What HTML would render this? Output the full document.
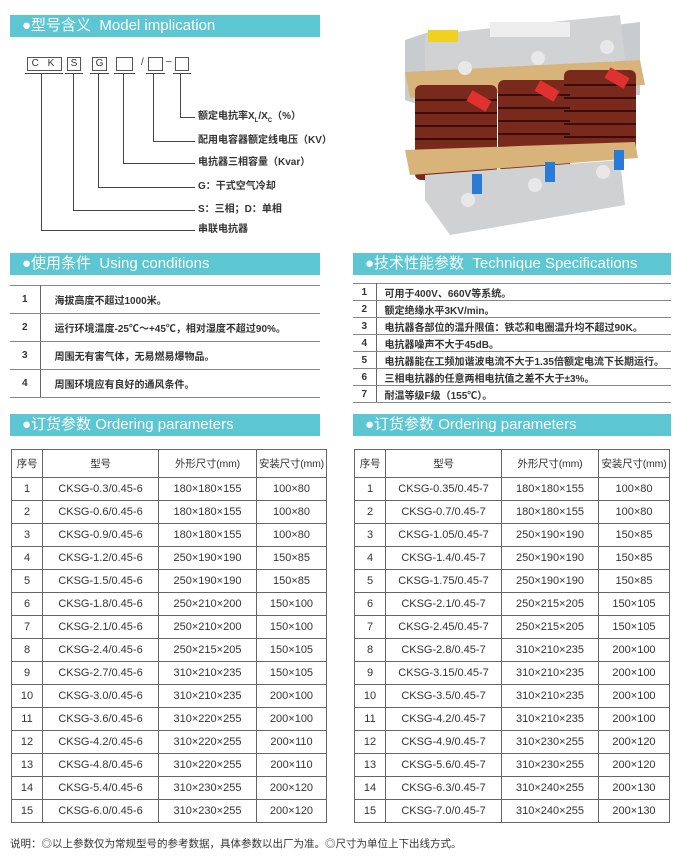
<!DOCTYPE html>
<html><head><meta charset="utf-8"><style>
*{margin:0;padding:0;box-sizing:border-box}
body{width:677px;height:863px;background:#fff;position:relative;overflow:hidden;font-family:"Liberation Sans","Noto Sans CJK SC",sans-serif;color:#222}
.bar{position:absolute;height:22px;background:#5cc7d2;color:#fff;font-size:15px;line-height:22px;padding-left:12px;white-space:nowrap}
.a{position:absolute}
.mb{position:absolute;top:57px;height:14px;border:1px solid #555;font-size:10px;line-height:12px;text-align:center;color:#333}
.lbl{position:absolute;left:198px;font-size:10px;font-weight:bold;color:#333;line-height:12px}
table{position:absolute;border-collapse:collapse;font-size:11px;color:#333;table-layout:fixed}
table.o td{border:1px solid #666;text-align:center;height:23px;padding:0;white-space:nowrap}
table.o tr:first-child td{height:28px;font-size:10.5px;letter-spacing:-0.2px}
table.c td,table.s td{border-top:1px solid #888;border-bottom:1px solid #888;font-size:10px;font-weight:bold;color:#333;padding:0}
</style></head><body>

<div class="bar" style="left:10px;top:15px;width:310px">●型号含义&nbsp; Model implication</div>
<div class="mb" style="left:27px;width:35px;letter-spacing:3px">C K</div>
<div class="mb" style="left:67px;width:14px">S</div>
<div class="mb" style="left:92px;width:15px">G</div>
<div class="mb" style="left:116px;width:17px"></div>
<div class="a" style="left:141px;top:57px;font-size:10px;color:#333">/</div>
<div class="mb" style="left:148px;width:15px"></div>
<div class="a" style="left:166px;top:56px;font-size:10px;color:#333">–</div>
<div class="mb" style="left:175px;width:14px"></div>
<svg class="a" style="left:0;top:0" width="200" height="240">
<g stroke="#444" stroke-width="1" fill="none">
<line x1="25" y1="73.5" x2="63" y2="73.5"/><line x1="65" y1="73.5" x2="83" y2="73.5"/><line x1="90" y1="73.5" x2="109" y2="73.5"/><line x1="114" y1="73.5" x2="135" y2="73.5"/><line x1="146" y1="73.5" x2="165" y2="73.5"/><line x1="173" y1="73.5" x2="191" y2="73.5"/>
<polyline points="41.5,74 41.5,230.5 195,230.5"/>
<polyline points="73.5,74 73.5,210.5 195,210.5"/>
<polyline points="98.5,74 98.5,187.5 195,187.5"/>
<polyline points="123.5,74 123.5,163.5 195,163.5"/>
<polyline points="153.5,74 153.5,141.5 195,141.5"/>
<polyline points="180.5,74 180.5,117.5 195,117.5"/>
</g></svg>
<div class="lbl" style="top:111px">额定电抗率X<sub style="font-size:6px">L</sub>/X<sub style="font-size:6px">C</sub>（%）</div>
<div class="lbl" style="top:135px">配用电容器额定线电压（KV）</div>
<div class="lbl" style="top:157px">电抗器三相容量（Kvar）</div>
<div class="lbl" style="top:181px">G：干式空气冷却</div>
<div class="lbl" style="top:204px">S：三相；D：单相</div>
<div class="lbl" style="top:224px">串联电抗器</div>

<!-- product image -->
<svg class="a" style="left:390px;top:0" width="287" height="240" viewBox="0 0 287 240" preserveAspectRatio="none">
<polygon points="15,40 45,30 45,110 15,100" fill="#c9cccf"/>
<polygon points="225,25 250,22 250,95 225,95" fill="#c9cccf"/>
<polygon points="35,35 230,15 235,60 35,80" fill="#d0d2d4"/>
<rect x="38" y="30" width="30" height="12" fill="#f0d020"/>
<rect x="100" y="22" width="80" height="15" fill="#eee"/>
<polygon points="15,72 250,60 255,85 20,98" fill="#d9b47a"/>
<rect x="25" y="85" width="82" height="95" rx="6" fill="#7a2a1c"/>
<rect x="108" y="80" width="72" height="90" rx="6" fill="#7a2a1c"/>
<rect x="174" y="70" width="72" height="85" rx="6" fill="#7a2a1c"/>
<g stroke="#3a0e08" stroke-width="2">
<line x1="25" y1="100" x2="107" y2="100"/><line x1="25" y1="113" x2="107" y2="113"/><line x1="25" y1="126" x2="107" y2="126"/><line x1="25" y1="139" x2="107" y2="139"/><line x1="25" y1="152" x2="107" y2="152"/><line x1="25" y1="165" x2="107" y2="165"/>
<line x1="108" y1="95" x2="180" y2="95"/><line x1="108" y1="108" x2="180" y2="108"/><line x1="108" y1="121" x2="180" y2="121"/><line x1="108" y1="134" x2="180" y2="134"/><line x1="108" y1="147" x2="180" y2="147"/><line x1="108" y1="160" x2="180" y2="160"/>
<line x1="174" y1="85" x2="246" y2="85"/><line x1="174" y1="98" x2="246" y2="98"/><line x1="174" y1="111" x2="246" y2="111"/><line x1="174" y1="124" x2="246" y2="124"/><line x1="174" y1="137" x2="246" y2="137"/>
</g>
<polygon points="15,150 245,142 248,158 20,175" fill="#d9b47a"/>
<polygon points="35,175 230,160 235,205 60,235 35,200" fill="#cfd1d3"/>
<circle cx="75" cy="68" r="7" fill="#e8e8e8"/><circle cx="148" cy="58" r="7" fill="#e8e8e8"/><circle cx="217" cy="47" r="7" fill="#e8e8e8"/>
<circle cx="78" cy="200" r="7" fill="#e8e8e8"/><circle cx="145" cy="185" r="7" fill="#e8e8e8"/><circle cx="213" cy="172" r="7" fill="#e8e8e8"/>
<rect x="78" y="95" width="22" height="12" fill="#e03030" transform="rotate(30 89 101)"/><rect x="146" y="85" width="22" height="12" fill="#e03030" transform="rotate(30 157 91)"/><rect x="216" y="72" width="22" height="12" fill="#e03030" transform="rotate(30 227 78)"/>
<rect x="82" y="174" width="10" height="20" fill="#2a7ad8"/><rect x="155" y="162" width="10" height="20" fill="#2a7ad8"/><rect x="224" y="150" width="10" height="20" fill="#2a7ad8"/>
</svg>

<div class="bar" style="left:10px;top:253px;width:310px">●使用条件&nbsp; Using conditions</div>
<table class="c" style="left:10px;top:285px;width:310px">
<tr style="height:28px"><td style="width:30px;text-align:center;border-right:1px solid #666">1</td><td style="padding-left:14px">海拔高度不超过1000米。</td></tr>
<tr style="height:28px"><td style="text-align:center;border-right:1px solid #666">2</td><td style="padding-left:14px">运行环境温度-25℃～+45℃，相对湿度不超过90%。</td></tr>
<tr style="height:28px"><td style="text-align:center;border-right:1px solid #666">3</td><td style="padding-left:14px">周围无有害气体，无易燃易爆物品。</td></tr>
<tr style="height:28px"><td style="text-align:center;border-right:1px solid #666">4</td><td style="padding-left:14px">周围环境应有良好的通风条件。</td></tr>
</table>

<div class="bar" style="left:353px;top:253px;width:318px">●技术性能参数&nbsp; Technique Specifications</div>
<table class="s" style="left:353px;top:283px;width:318px">
<tr style="height:17px"><td style="width:23px;text-align:center;border-right:1px solid #666">1</td><td style="padding-left:8px">可用于400V、660V等系统。</td></tr>
<tr style="height:17px"><td style="text-align:center;border-right:1px solid #666">2</td><td style="padding-left:8px">额定绝缘水平3KV/min。</td></tr>
<tr style="height:17px"><td style="text-align:center;border-right:1px solid #666">3</td><td style="padding-left:8px">电抗器各部位的温升限值：铁芯和电圈温升均不超过90K。</td></tr>
<tr style="height:17px"><td style="text-align:center;border-right:1px solid #666">4</td><td style="padding-left:8px">电抗器噪声不大于45dB。</td></tr>
<tr style="height:17px"><td style="text-align:center;border-right:1px solid #666">5</td><td style="padding-left:8px;white-space:nowrap">电抗器能在工频加谐波电流不大于1.35倍额定电流下长期运行。</td></tr>
<tr style="height:17px"><td style="text-align:center;border-right:1px solid #666">6</td><td style="padding-left:8px">三相电抗器的任意两相电抗值之差不大于±3%。</td></tr>
<tr style="height:17px"><td style="text-align:center;border-right:1px solid #666">7</td><td style="padding-left:8px">耐温等级F级（155℃）。</td></tr>
</table>

<div class="bar" style="left:10px;top:414px;width:310px">●订货参数 Ordering parameters</div>
<div class="bar" style="left:353px;top:414px;width:318px">●订货参数 Ordering parameters</div>

<table class="o" style="left:11px;top:449px;width:316px">
<tr><td style="width:31px">序号</td><td style="width:116px">型号</td><td style="width:98px">外形尺寸(mm)</td><td>安装尺寸(mm)</td></tr>
<tr><td>1</td><td>CKSG-0.3/0.45-6</td><td>180×180×155</td><td>100×80</td></tr>
<tr><td>2</td><td>CKSG-0.6/0.45-6</td><td>180×180×155</td><td>100×80</td></tr>
<tr><td>3</td><td>CKSG-0.9/0.45-6</td><td>180×180×155</td><td>100×80</td></tr>
<tr><td>4</td><td>CKSG-1.2/0.45-6</td><td>250×190×190</td><td>150×85</td></tr>
<tr><td>5</td><td>CKSG-1.5/0.45-6</td><td>250×190×190</td><td>150×85</td></tr>
<tr><td>6</td><td>CKSG-1.8/0.45-6</td><td>250×210×200</td><td>150×100</td></tr>
<tr><td>7</td><td>CKSG-2.1/0.45-6</td><td>250×210×200</td><td>150×100</td></tr>
<tr><td>8</td><td>CKSG-2.4/0.45-6</td><td>250×215×205</td><td>150×105</td></tr>
<tr><td>9</td><td>CKSG-2.7/0.45-6</td><td>310×210×235</td><td>150×105</td></tr>
<tr><td>10</td><td>CKSG-3.0/0.45-6</td><td>310×210×235</td><td>200×100</td></tr>
<tr><td>11</td><td>CKSG-3.6/0.45-6</td><td>310×220×255</td><td>200×100</td></tr>
<tr><td>12</td><td>CKSG-4.2/0.45-6</td><td>310×220×255</td><td>200×110</td></tr>
<tr><td>13</td><td>CKSG-4.8/0.45-6</td><td>310×220×255</td><td>200×110</td></tr>
<tr><td>14</td><td>CKSG-5.4/0.45-6</td><td>310×230×255</td><td>200×120</td></tr>
<tr><td>15</td><td>CKSG-6.0/0.45-6</td><td>310×230×255</td><td>200×120</td></tr>
</table>

<table class="o" style="left:354px;top:449px;width:316px">
<tr><td style="width:31px">序号</td><td style="width:116px">型号</td><td style="width:97px">外形尺寸(mm)</td><td>安装尺寸(mm)</td></tr>
<tr><td>1</td><td>CKSG-0.35/0.45-7</td><td>180×180×155</td><td>100×80</td></tr>
<tr><td>2</td><td>CKSG-0.7/0.45-7</td><td>180×180×155</td><td>100×80</td></tr>
<tr><td>3</td><td>CKSG-1.05/0.45-7</td><td>250×190×190</td><td>150×85</td></tr>
<tr><td>4</td><td>CKSG-1.4/0.45-7</td><td>250×190×190</td><td>150×85</td></tr>
<tr><td>5</td><td>CKSG-1.75/0.45-7</td><td>250×190×190</td><td>150×85</td></tr>
<tr><td>6</td><td>CKSG-2.1/0.45-7</td><td>250×215×205</td><td>150×105</td></tr>
<tr><td>7</td><td>CKSG-2.45/0.45-7</td><td>250×215×205</td><td>150×105</td></tr>
<tr><td>8</td><td>CKSG-2.8/0.45-7</td><td>310×210×235</td><td>200×100</td></tr>
<tr><td>9</td><td>CKSG-3.15/0.45-7</td><td>310×210×235</td><td>200×100</td></tr>
<tr><td>10</td><td>CKSG-3.5/0.45-7</td><td>310×210×235</td><td>200×100</td></tr>
<tr><td>11</td><td>CKSG-4.2/0.45-7</td><td>310×210×235</td><td>200×100</td></tr>
<tr><td>12</td><td>CKSG-4.9/0.45-7</td><td>310×230×255</td><td>200×120</td></tr>
<tr><td>13</td><td>CKSG-5.6/0.45-7</td><td>310×230×255</td><td>200×120</td></tr>
<tr><td>14</td><td>CKSG-6.3/0.45-7</td><td>310×240×255</td><td>200×130</td></tr>
<tr><td>15</td><td>CKSG-7.0/0.45-7</td><td>310×240×255</td><td>200×130</td></tr>
</table>

<div class="a" style="left:10px;top:836px;font-size:10.5px;color:#333">说明：◎以上参数仅为常规型号的参考数据，具体参数以出厂为准。◎尺寸为单位上下出线方式。</div>
</body></html>
